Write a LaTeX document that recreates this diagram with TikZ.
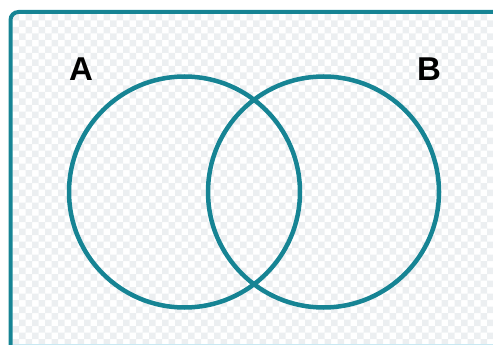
\documentclass[tikz,border=0pt]{standalone}
\usepackage{fontspec}
\setmainfont{Liberation Sans}
\definecolor{teal1}{RGB}{22,132,148}
\definecolor{checkgray}{RGB}{236,239,241}
\definecolor{lightline}{RGB}{200,232,242}
\tikzset{
  setcircle/.style={circle, draw=teal1, line width=4.5pt, minimum size=231pt, inner sep=0pt},
  setlabel/.style={font=\bfseries\fontsize{33}{33}\selectfont, text=black, inner sep=0pt},
  framebox/.style={draw=teal1, line width=4pt, rounded corners=8pt}
}
\begin{document}
\begin{tikzpicture}[x=1pt,y=-1pt]
\useasboundingbox (0,0) rectangle (493,345);
\begin{scope}
  \clip (12.5,14) rectangle (493,345);
  \fill[checkgray] \foreach \i [evaluate=\i as \o using {int(mod(\i,2))}] in {0,...,75} {
    \foreach \j in {0,...,26} {
      (12.5+\i*6.5, 14+2*\j*6.5+\o*6.5) rectangle ++(6.5,6.5)
    }
  };
\end{scope}
\draw[lightline, line width=1.5pt] (12.5,344.5) -- (493,344.5);
\begin{scope}
  \clip (0,0) rectangle (493,345);
  \draw[framebox] (520,12) -- (10.5,12) -- (10.5,370);
\end{scope}
\node[setcircle] (A) at (184.5,192) {};
\node[setcircle] (B) at (323.5,192) {};
\node[setlabel] (labA) at (81,69) {A};
\node[setlabel] (labB) at (429,69) {B};
\end{tikzpicture}
\end{document}
